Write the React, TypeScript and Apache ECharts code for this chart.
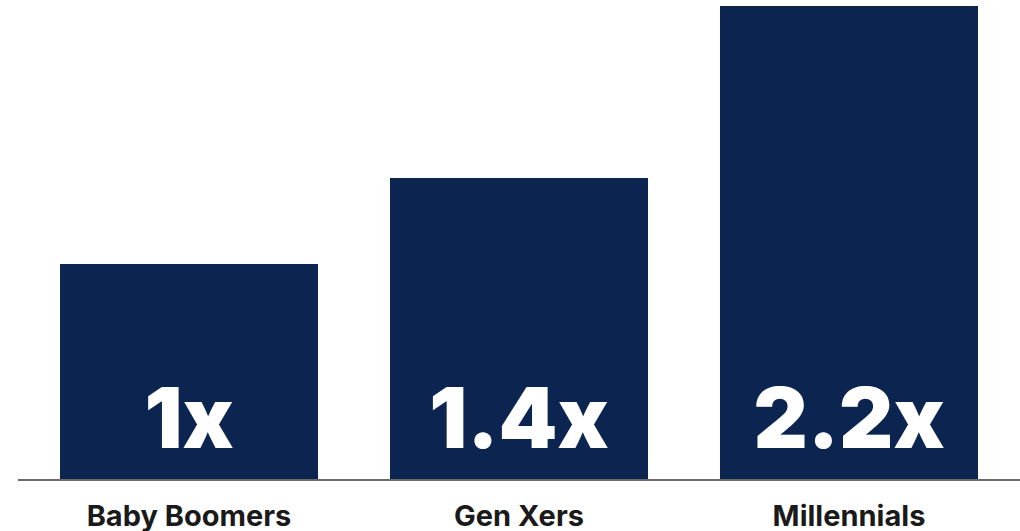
import React, { useEffect, useRef } from "react";
import * as echarts from "echarts";

const categories = ["Baby Boomers", "Gen Xers", "Millennials"];
const values = [1, 1.4, 2.2];
const valueLabels = ["1x", "1.4x", "2.2x"];

export default function App() {
  const ref = useRef<HTMLDivElement>(null);
  useEffect(() => {
    if (!ref.current) return;
    const chart = echarts.init(ref.current, null, { renderer: "svg" });
    chart.setOption({
      animation: false,
      backgroundColor: "#ffffff",
      grid: { left: 24, right: 6, top: 6, bottom: 52, containLabel: false },
      xAxis: {
        type: "category",
        data: categories,
        axisLine: { show: false },
        axisTick: { show: false },
        axisLabel: {
          color: "#1a1a1a",
          fontFamily: "Inter",
          fontWeight: 700,
          fontSize: 29,
          lineHeight: 30,
          margin: 21,
        },
      },
      yAxis: {
        type: "value",
        min: 0,
        max: 2.2,
        show: false,
        splitLine: { show: false },
      },
      graphic: [
        {
          type: "line",
          shape: { x1: 18, y1: 480, x2: 1020, y2: 480 },
          style: { stroke: "#6b6b6b", lineWidth: 2 },
          z: 10,
        },
      ],
      series: [
        {
          type: "bar",
          data: values,
          barWidth: 258,
          itemStyle: { color: "#0c2550" },
          label: {
            show: true,
            position: "insideBottom",
            distance: 20,
            color: "#ffffff",
            fontFamily: "Inter",
            fontWeight: 900,
            fontSize: 84,
            formatter: (p: any) => valueLabels[p.dataIndex],
          },
        },
      ],
    });
    return () => chart.dispose();
  }, []);
  return (
    <div
      ref={ref}
      style={{ position: "absolute", left: 0, top: 0, width: 1020, height: 531 }}
    />
  );
}
